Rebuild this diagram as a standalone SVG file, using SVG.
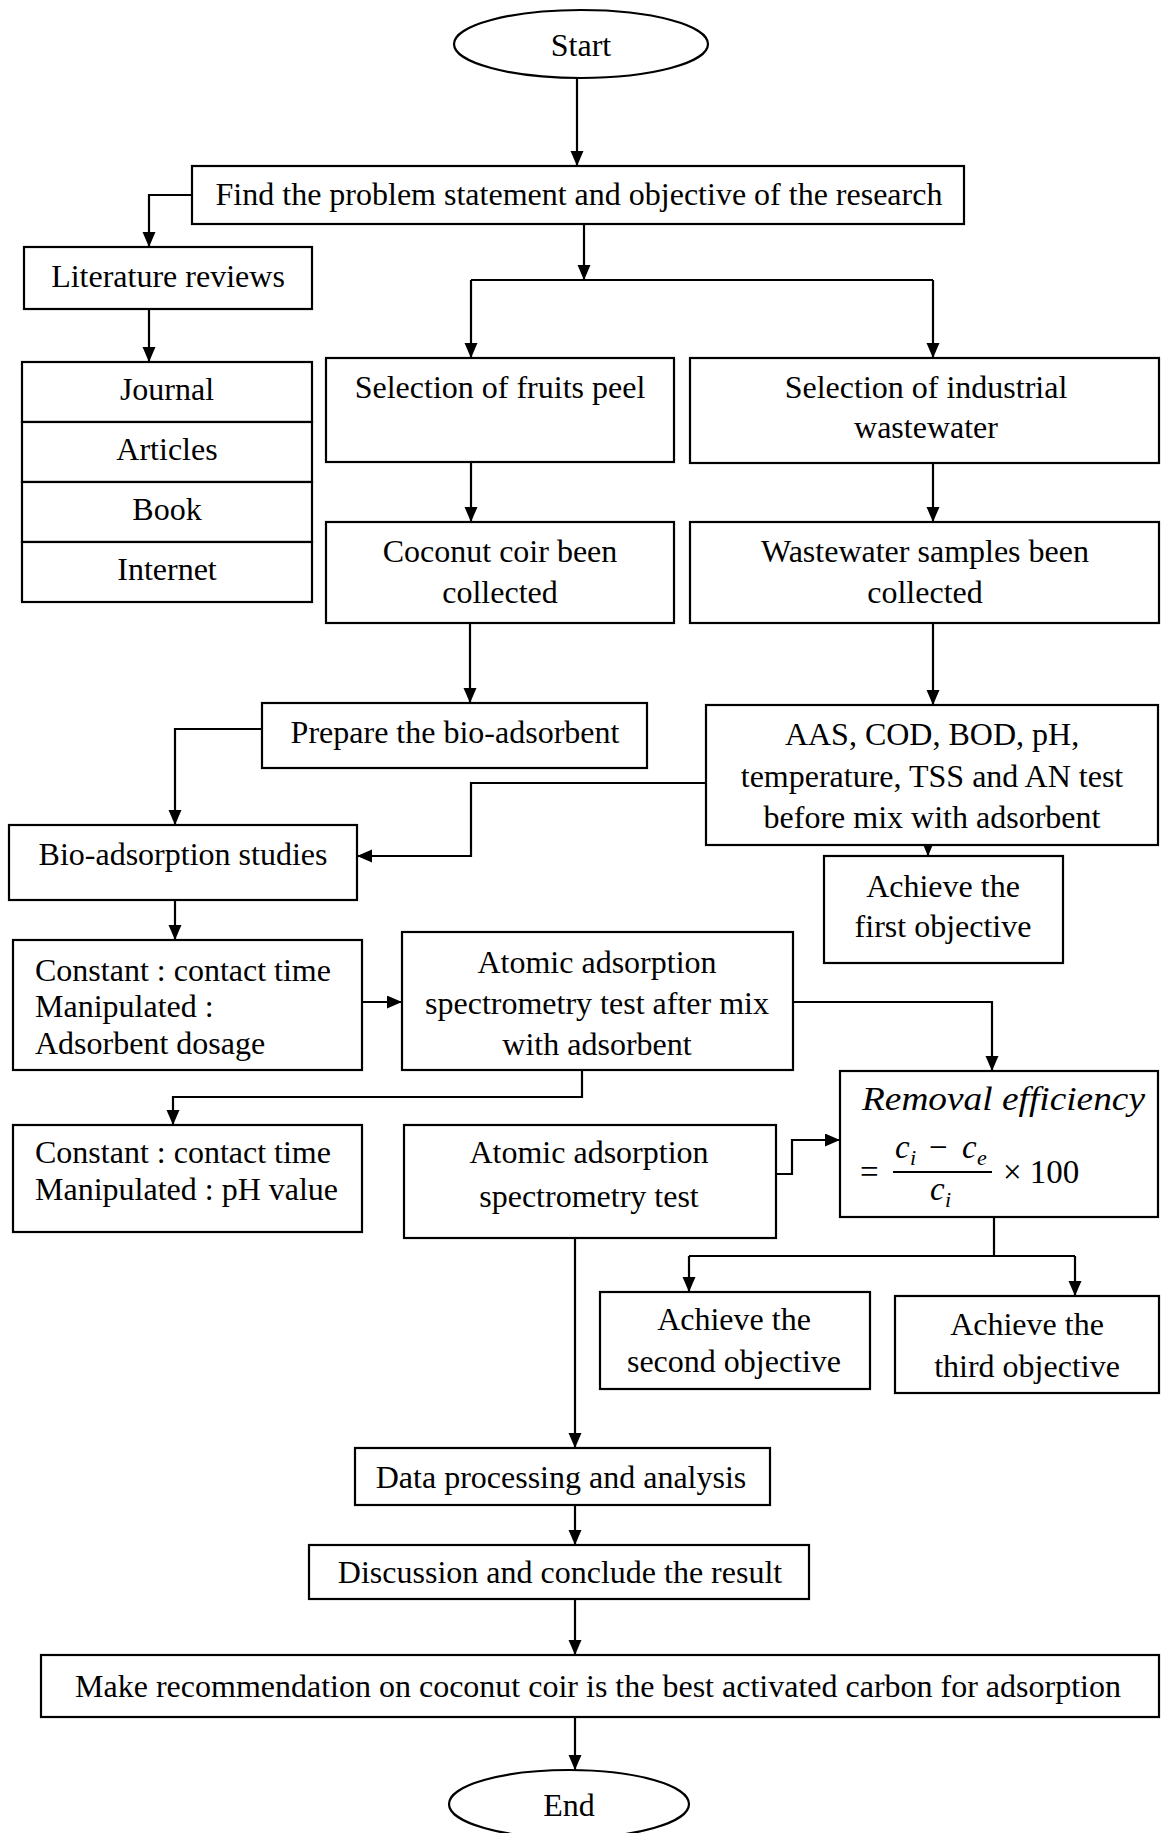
<svg xmlns="http://www.w3.org/2000/svg" width="1166" height="1833" viewBox="0 0 1166 1833">
<defs>
<marker id="ah" markerUnits="userSpaceOnUse" markerWidth="16" markerHeight="14" refX="15" refY="6.5" orient="auto">
<path d="M0,0 L15,6.5 L0,13 z" fill="#000"/>
</marker>
<style>
.b{fill:#fff;stroke:#000;stroke-width:2.2}
.t{font-family:"Liberation Serif","Times New Roman",serif;font-size:32px;fill:#000;text-anchor:middle}
.l{text-anchor:start}
.c{fill:none;stroke:#000;stroke-width:2.2}
.a{marker-end:url(#ah)}
.m{font-family:"Liberation Serif","DejaVu Serif",serif;font-style:italic;font-size:33px;fill:#000}
.s{font-family:"Liberation Serif","DejaVu Serif",serif;font-style:italic;font-size:22px;fill:#000}
.n{font-family:"Liberation Serif","DejaVu Serif",serif;font-size:33px;fill:#000}
</style>
</defs>
<rect width="1166" height="1833" fill="#fff"/>

<g id="connectors">
<path class="c a" d="M577,78 V166"/>
<path class="c a" d="M192,195 H149 V247"/>
<path class="c a" d="M584,224 V280"/>
<path class="c" d="M471,280 H933"/>
<path class="c a" d="M471,280 V358"/>
<path class="c a" d="M933,280 V358"/>
<path class="c a" d="M149,309 V362"/>
<path class="c a" d="M471,462 V522"/>
<path class="c a" d="M933,463 V522"/>
<path class="c a" d="M470,623 V703"/>
<path class="c a" d="M933,623 V705"/>
<path class="c a" d="M262,729 H175 V825"/>
<path class="c a" d="M706,783 H471 V856 H357"/>
<path class="c a" d="M928,812 V856"/>
<path class="c a" d="M175,900 V940"/>
<path class="c a" d="M362,1002 H402"/>
<path class="c a" d="M793,1002 H992 V1071"/>
<path class="c a" d="M582,1070 V1097 H173 V1125"/>
<path class="c a" d="M776,1174 H792 V1140 H840"/>
<path class="c" d="M994,1217 V1256 M689,1256 H1075"/>
<path class="c a" d="M689,1256 V1292"/>
<path class="c a" d="M1075,1256 V1296"/>
<path class="c a" d="M575,1238 V1448"/>
<path class="c a" d="M575,1505 V1545"/>
<path class="c a" d="M575,1599 V1655"/>
<path class="c a" d="M575,1717 V1770"/>
</g>

<g id="start">
<ellipse class="b" cx="581" cy="44" rx="127" ry="34"/>
<text class="t" x="581" y="56">Start</text>
</g>

<g id="find">
<rect class="b" x="192" y="166" width="772" height="58"/>
<text class="t" x="579" y="205">Find the problem statement and objective of the research</text>
</g>

<g id="literature">
<rect class="b" x="24" y="247" width="288" height="62"/>
<text class="t" x="168" y="287">Literature reviews</text>
</g>

<g id="sources">
<rect class="b" x="22" y="362" width="290" height="60"/>
<rect class="b" x="22" y="422" width="290" height="60"/>
<rect class="b" x="22" y="482" width="290" height="60"/>
<rect class="b" x="22" y="542" width="290" height="60"/>
<text class="t" x="167" y="400">Journal</text>
<text class="t" x="167" y="460">Articles</text>
<text class="t" x="167" y="520">Book</text>
<text class="t" x="167" y="580">Internet</text>
</g>

<g id="fruits">
<rect class="b" x="326" y="358" width="348" height="104"/>
<text class="t" x="500" y="398">Selection of fruits peel</text>
</g>

<g id="industrial">
<rect class="b" x="690" y="358" width="469" height="105"/>
<text class="t" x="926" y="398">Selection of industrial</text>
<text class="t" x="926" y="438">wastewater</text>
</g>

<g id="coconut">
<rect class="b" x="326" y="522" width="348" height="101"/>
<text class="t" x="500" y="562">Coconut coir been</text>
<text class="t" x="500" y="603">collected</text>
</g>

<g id="samples">
<rect class="b" x="690" y="522" width="469" height="101"/>
<text class="t" x="925" y="562">Wastewater samples been</text>
<text class="t" x="925" y="603">collected</text>
</g>

<g id="prepare">
<rect class="b" x="262" y="703" width="385" height="65"/>
<text class="t" x="455" y="743">Prepare the bio-adsorbent</text>
</g>

<g id="aas">
<rect class="b" x="706" y="705" width="452" height="140"/>
<text class="t" x="932" y="745">AAS, COD, BOD, pH,</text>
<text class="t" x="932" y="787">temperature, TSS and AN test</text>
<text class="t" x="932" y="828">before mix with adsorbent</text>
</g>

<g id="first">
<rect class="b" x="824" y="856" width="239" height="107"/>
<text class="t" x="943" y="897">Achieve the</text>
<text class="t" x="943" y="937">first objective</text>
</g>

<g id="bio">
<rect class="b" x="9" y="825" width="348" height="75"/>
<text class="t" x="183" y="865">Bio-adsorption studies</text>
</g>

<g id="constant1">
<rect class="b" x="13" y="940" width="349" height="130"/>
<text class="t l" x="35" y="981">Constant : contact time</text>
<text class="t l" x="35" y="1017">Manipulated :</text>
<text class="t l" x="35" y="1054">Adsorbent dosage</text>
</g>

<g id="atomic1">
<rect class="b" x="402" y="932" width="391" height="138"/>
<text class="t" x="597" y="973">Atomic adsorption</text>
<text class="t" x="597" y="1014">spectrometry test after mix</text>
<text class="t" x="597" y="1055">with adsorbent</text>
</g>

<g id="removal">
<rect class="b" x="840" y="1071" width="318" height="146"/>
<text class="m" x="862" y="1110" textLength="283" lengthAdjust="spacingAndGlyphs">Removal efficiency</text>
<text class="n" x="860" y="1183">=</text>
<line x1="893" y1="1172" x2="992" y2="1172" stroke="#000" stroke-width="2.2"/>
<text class="m" x="895" y="1158">c</text>
<text class="s" x="910" y="1165">i</text>
<text class="n" x="929" y="1158">−</text>
<text class="m" x="962" y="1158">c</text>
<text class="s" x="977" y="1165">e</text>
<text class="m" x="930" y="1200">c</text>
<text class="s" x="945" y="1207">i</text>
<text class="n" x="1003" y="1183">× 100</text>
</g>

<g id="constant2">
<rect class="b" x="13" y="1125" width="349" height="107"/>
<text class="t l" x="35" y="1163">Constant : contact time</text>
<text class="t l" x="35" y="1200">Manipulated : pH value</text>
</g>

<g id="atomic2">
<rect class="b" x="404" y="1125" width="372" height="113"/>
<text class="t" x="589" y="1163">Atomic adsorption</text>
<text class="t" x="589" y="1207">spectrometry test</text>
</g>

<g id="second">
<rect class="b" x="600" y="1292" width="270" height="97"/>
<text class="t" x="734" y="1330">Achieve the</text>
<text class="t" x="734" y="1372">second objective</text>
</g>

<g id="third">
<rect class="b" x="895" y="1296" width="264" height="97"/>
<text class="t" x="1027" y="1335">Achieve the</text>
<text class="t" x="1027" y="1377">third objective</text>
</g>

<g id="data">
<rect class="b" x="355" y="1448" width="415" height="57"/>
<text class="t" x="561" y="1488">Data processing and analysis</text>
</g>

<g id="discussion">
<rect class="b" x="309" y="1545" width="500" height="54"/>
<text class="t" x="560" y="1583">Discussion and conclude the result</text>
</g>

<g id="recommend">
<rect class="b" x="41" y="1655" width="1118" height="62"/>
<text class="t" x="598" y="1697">Make recommendation on coconut coir is the best activated carbon for adsorption</text>
</g>

<g id="end">
<ellipse class="b" cx="569" cy="1804" rx="120" ry="34"/>
<text class="t" x="569" y="1816">End</text>
</g>
</svg>
